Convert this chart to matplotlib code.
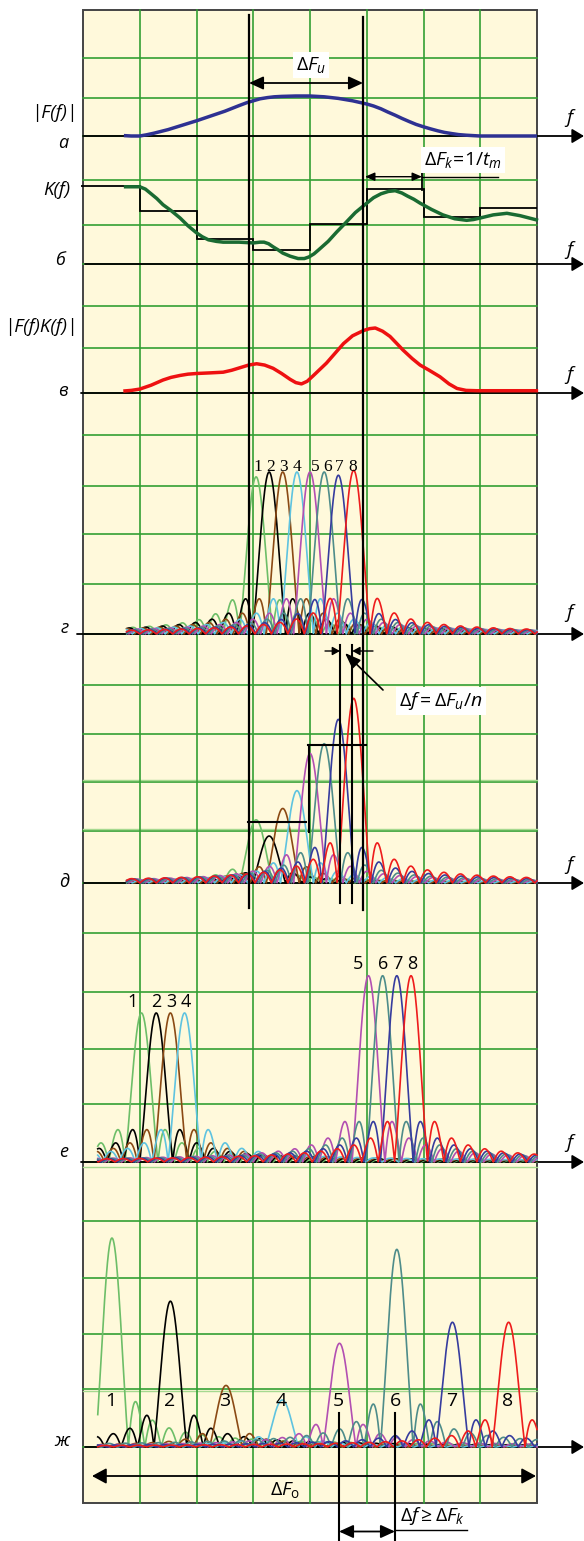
import numpy as np
import matplotlib.pyplot as plt

plt.rcParams['font.family'] = ['Open Sans', 'DejaVu Sans']
plt.rcParams['mathtext.fontset'] = 'custom'
plt.rcParams['mathtext.rm'] = 'Open Sans'
plt.rcParams['mathtext.it'] = 'Open Sans:italic'
plt.rcParams['mathtext.bf'] = 'Open Sans:bold'

# -------------------- DATA --------------------
# frequency in grid columns (0..8), amplitudes in panel units
# а : |F(f)|
fa = [0.72, 0.85, 1.0, 1.12, 1.25, 1.5, 1.75, 2.0, 2.25, 2.5, 2.75, 2.9, 3.0, 3.12, 3.25,
      3.37, 3.5, 3.75, 4.0, 4.25, 4.5, 4.75, 5.0, 5.12, 5.25, 5.37, 5.5, 5.62, 5.75, 5.87,
      6.0, 6.12, 6.25, 6.37, 6.5, 6.62, 6.75, 6.87, 7.0, 8.0]
Fa = [0.01, 0.0, 0.0, 0.03, 0.07, 0.16, 0.27, 0.38, 0.50, 0.62, 0.76, 0.84, 0.88, 0.93, 0.96,
      0.98, 0.99, 1.0, 1.0, 0.98, 0.94, 0.88, 0.80, 0.75, 0.68, 0.60, 0.52, 0.44, 0.36, 0.29,
      0.23, 0.18, 0.13, 0.09, 0.06, 0.035, 0.02, 0.01, 0.0, 0.0]

# б : K(f) and its stepwise approximation
fk = [0.72, 1.0, 1.1, 1.2, 1.3, 1.41, 1.56, 1.71, 1.85, 2.0, 2.1, 2.21, 2.35, 2.47, 2.75,
      3.0, 3.12, 3.19, 3.27, 3.35, 3.44, 3.52, 3.65, 3.79, 3.9, 3.98, 4.07, 4.15, 4.32,
      4.47, 4.63, 4.8, 5.0, 5.12, 5.25, 5.38, 5.5, 5.62, 5.72, 5.83, 5.94, 6.14, 6.34,
      6.55, 6.76, 6.88, 7.0, 7.23, 7.47, 7.7, 8.02]
Kf = [0.99, 0.99, 0.96, 0.90, 0.84, 0.76, 0.68, 0.59, 0.49, 0.40, 0.35, 0.31, 0.29, 0.28, 0.28,
      0.27, 0.28, 0.28, 0.26, 0.22, 0.18, 0.14, 0.10, 0.07, 0.07, 0.09, 0.13, 0.18, 0.29,
      0.41, 0.53, 0.66, 0.78, 0.85, 0.90, 0.93, 0.94, 0.91, 0.87, 0.83, 0.78, 0.70, 0.63,
      0.58, 0.56, 0.57, 0.59, 0.63, 0.65, 0.62, 0.56]
k_edges = [-0.035, 1, 2, 3, 4, 5, 6, 7, 8]
k_steps = [1.0, 0.68, 0.32, 0.18, 0.51, 0.96, 0.60, 0.72]

# в : |F(f)K(f)|
fp = [0.71, 0.85, 1.0, 1.2, 1.41, 1.55, 1.71, 1.85, 2.0, 2.25, 2.47, 2.62, 2.77, 2.92,
      3.06, 3.2, 3.35, 3.5, 3.65, 3.75, 3.85, 3.95, 4.05, 4.17, 4.29, 4.45, 4.59, 4.75,
      4.94, 5.05, 5.15, 5.28, 5.41, 5.52, 5.64, 5.8, 5.94, 6.1, 6.29, 6.45, 6.59, 6.75,
      6.94, 8.02]
FK = [0.03, 0.04, 0.06, 0.12, 0.20, 0.24, 0.27, 0.29, 0.30, 0.31, 0.32, 0.35, 0.39, 0.43,
      0.45, 0.43, 0.38, 0.30, 0.21, 0.16, 0.14, 0.18, 0.26, 0.36, 0.46, 0.62, 0.76, 0.88,
      0.96, 0.99, 1.0, 0.95, 0.87, 0.77, 0.66, 0.53, 0.43, 0.35, 0.25, 0.14, 0.07, 0.04,
      0.035, 0.035]

# filter channels: centres and peak heights
chan_g = [3.05, 3.28, 3.52, 3.77, 4.00, 4.25, 4.50, 4.77]
amp_g = [0.97, 1.0, 1.0, 1.0, 1.0, 1.0, 0.98, 1.01]
chan_d = [3.05, 3.28, 3.52, 3.77, 4.00, 4.25, 4.50, 4.77]
amp_d = [0.39, 0.29, 0.46, 0.57, 0.80, 0.86, 1.01, 1.14]
chan_e = [1.03, 1.29, 1.54, 1.79, 5.03, 5.28, 5.53, 5.78]
amp_e = [0.92, 0.92, 0.92, 0.92, 1.15, 1.15, 1.15, 1.15]
chan_zh = [0.51, 1.54, 2.52, 3.51, 4.52, 5.53, 6.51, 7.50]
amp_zh = [1.29, 0.90, 0.38, 0.29, 0.64, 1.22, 0.77, 0.77]
chan_names = ['1', '2', '3', '4', '5', '6', '7', '8']
panel_names = ['а', 'б', 'в', 'г', 'д', 'е', 'ж']

peak_colors = ['#6DBE68', '#000000', '#8B4A14', '#5EC3E0',
               '#B24FB2', '#4E8C8A', '#363C9E', '#EE1C1C']
LOBE = 0.29

# -------------------- LAYOUT (pixels) --------------------
W, H = 584, 1541
X0, X1 = 83, 537
TOP, BOT = 10, 1503
COL = (X1 - X0) / 8
grid_rows = [58, 98, 136, 180, 225, 264, 306, 348, 393, 435, 486, 534, 584, 634, 685,
             734, 782, 831, 883, 933, 992, 1049, 1104, 1162, 1221, 1278, 1334, 1389, 1447]
light_rows = [780, 829, 1167, 1391]
base_y = [136, 264, 393, 634, 883, 1162, 1447]
axis_x0 = [83, 85, 81, 77, 84, 81, 85]
name_xy = [(63, 143), (60, 260), (63, 391), (65, 628), (64, 882), (64, 1152), (62, 1441)]
f_y = [118, 250, 375, 613, 865, 1143]

fig = plt.figure(figsize=(W / 100, H / 100), dpi=100)

# -------------------- BACKGROUND --------------------
bg = fig.add_axes([0, 0, 1, 1])
bg.set_xlim(0, W)
bg.set_ylim(H, 0)
bg.axis('off')
bg.add_patch(plt.Rectangle((X0, TOP), X1 - X0, BOT - TOP, fc='#FFF9DB', ec='none'))
for y in grid_rows:
    bg.plot([X0, X1], [y, y], color='#33A033', lw=1.2)
for y in light_rows:
    bg.plot([X0, X1], [y, y], color='#A6D98F', lw=1.0)
for k in range(1, 8):
    x = X0 + k * COL
    bg.plot([x, x], [TOP, BOT], color='#33A033', lw=1.2)
bg.add_patch(plt.Rectangle((X0, TOP), X1 - X0, BOT - TOP, fc='none', ec='#444444', lw=1.4))

axis_style = '-|>,head_length=0.6,head_width=0.36'
for y, x0 in zip(base_y, axis_x0):
    bg.annotate('', xy=(W, y), xytext=(x0, y),
                arrowprops=dict(arrowstyle=axis_style, mutation_scale=12, lw=1.3,
                                color='k', shrinkA=0, shrinkB=0))

for (x, y), s in zip(name_xy, panel_names):
    bg.text(x, y, s, fontsize=13, style='italic', ha='center', va='center')
for y in f_y:
    bg.text(569, y, 'f', fontsize=14, style='italic', ha='center', va='center')
bg.text(54, 113, '|F(f)|', fontsize=13.5, style='italic', ha='center', va='center')
bg.text(57, 190, 'K(f)', fontsize=13.5, style='italic', ha='center', va='center')
bg.text(41, 327, '|F(f)K(f)|', fontsize=13.5, style='italic', ha='center', va='center')


# -------------------- PANELS --------------------
def panel(yb, gain):
    ax = fig.add_axes([X0 / W, (H - yb) / H, (X1 - X0) / W, gain / H])
    ax.set_xlim(0, 8)
    ax.set_ylim(0, 1)
    ax.axis('off')
    return ax


def spectra(ax, centres, amps, f0):
    f = np.linspace(f0, 8, 2000)
    for c, a, col in zip(centres, amps, peak_colors):
        ax.plot(f, a * np.abs(np.sinc((f - c) / LOBE)), color=col, lw=1.2, clip_on=False)


ax_a = panel(136, 40)
ax_a.plot(fa, Fa, color='#2E3192', lw=2.5, clip_on=False, solid_capstyle='butt',
          solid_joinstyle='round')

ax_b = panel(264, 78)
ax_b.stairs(k_steps, k_edges, color='k', lw=1.3, baseline=None, clip_on=False)
ax_b.plot(fk, Kf, color='#1A6B32', lw=2.5, clip_on=False, solid_capstyle='butt',
          solid_joinstyle='round')

ax_v = panel(393, 65)
ax_v.plot(fp, FK, color='#EE1111', lw=2.5, clip_on=False, solid_capstyle='butt',
          solid_joinstyle='round')

ax_g = panel(634, 162)
spectra(ax_g, chan_g, amp_g, 0.77)
dx_g = [0.03, 0.03, 0.02, 0.0, 0.09, 0.06, 0.02, -0.01]
for c, a, dx, s in zip(chan_g, amp_g, dx_g, chan_names):
    ax_g.text(c + dx, 1.03, s, fontsize=12.5, family='Liberation Serif',
              ha='center', va='center')

ax_d = panel(883, 162)
spectra(ax_d, chan_d, amp_d, 0.77)

ax_e = panel(1162, 162)
spectra(ax_e, chan_e, amp_e, 0.26)
dx_e = [-0.15, 0.0, 0.01, 0.03, -0.18, 0.0, 0.01, 0.02]
for c, a, dx, s in zip(chan_e, amp_e, dx_e, chan_names):
    ax_e.text(c + dx, a + 0.07, s, fontsize=13, ha='center', va='center')

ax_zh = panel(1447, 162)
spectra(ax_zh, chan_zh, amp_zh, 0.26)
for c, s in zip(chan_zh, chan_names):
    ax_zh.text(c - 0.02, 0.285, s, fontsize=14, ha='center', va='center')

# -------------------- ANNOTATIONS --------------------
top = fig.add_axes([0, 0, 1, 1])
top.set_xlim(0, W)
top.set_ylim(H, 0)
top.axis('off')


def arrow(x0, y0, x1, y1, style, ms=12, lw=1.3):
    top.annotate('', xy=(x1, y1), xytext=(x0, y0),
                 arrowprops=dict(arrowstyle=style, mutation_scale=ms, lw=lw,
                                 color='k', shrinkA=0, shrinkB=0))


box = dict(boxstyle='square,pad=0.15', fc='white', ec='none')

# bandwidth of the pulse
top.plot([249, 249], [15, 908], color='k', lw=1.6)
top.plot([363, 363], [17, 910], color='k', lw=1.6)
arrow(249, 83, 363, 83, '<|-|>,head_length=0.72,head_width=0.33')
top.text(311, 65, r'$\Delta F_{и}$', fontsize=14, ha='center', va='center', bbox=box)

# coherence band
arrow(365, 176.7, 422, 176.7, '<|-|>,head_length=0.58,head_width=0.25', ms=10, lw=1.0)
top.plot([422, 422], [169, 190], color='k', lw=1.3)
top.plot([422, 498], [176.7, 176.7], color='k', lw=1.0)
top.text(463, 160, r'$\Delta F_k\!=\!1/t_m$', fontsize=14, ha='center', va='center',
         bbox=box)

# channel spacing
top.plot([340, 340], [645, 903], color='k', lw=1.5)
top.plot([352.3, 352.3], [645, 903], color='k', lw=1.5)
arrow(325, 651, 340, 651, '-|>,head_length=0.45,head_width=0.25', ms=10, lw=1.0)
arrow(373, 651, 352.3, 651, '-|>,head_length=0.45,head_width=0.25', ms=10, lw=1.0)
arrow(383, 690, 345, 653, '-|>,head_length=0.8,head_width=0.3', ms=12, lw=1.2)
top.text(441, 701, r'$\Delta f = \Delta F_{и}/n$', fontsize=14, ha='center', va='center',
         bbox=box)

# steps over the д panel
top.plot([248, 306], [822, 822], color='k', lw=1.5)
top.plot([309, 309], [745, 832], color='k', lw=1.5)
top.plot([308, 366], [745, 745], color='k', lw=1.5)

# total band
arrow(92, 1476, 536, 1476, '<|-|>,head_length=0.72,head_width=0.39')
top.text(285, 1490, r'$\Delta F_{\mathrm{о}}$', fontsize=14, ha='center', va='center')

# spacing after diversity
top.plot([339, 339], [1413, H], color='k', lw=1.5)
top.plot([395, 395], [1413, H], color='k', lw=1.5)
arrow(339, 1531.5, 395, 1531.5, '<|-|>,head_length=0.72,head_width=0.33')
top.plot([395, 467], [1530, 1530], color='k', lw=1.0)
top.text(433, 1516, r'$\Delta f \geq \Delta F_k$', fontsize=14, ha='center', va='center')

fig.savefig('out.png', dpi=100)
